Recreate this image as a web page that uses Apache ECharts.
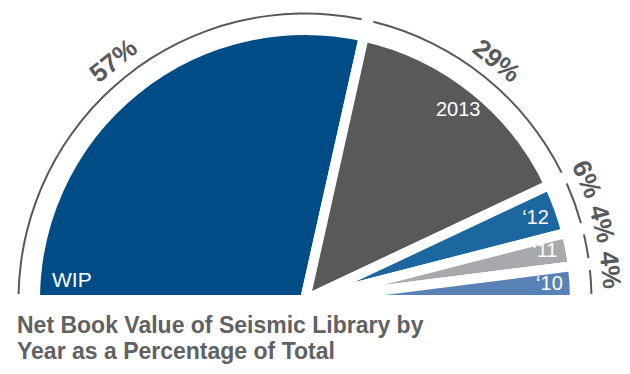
<!DOCTYPE html>
<html>
<head>
<meta charset="utf-8">
<script src="https://cdn.jsdelivr.net/npm/echarts@6/dist/echarts.min.js"></script>
<style>
  html, body { margin: 0; padding: 0; background: #ffffff; }
  #chart { width: 630px; height: 374px; }
</style>
</head>
<body>
<div id="chart"></div>
<script>
// Net book value of the seismic library, split by vintage year
const categories = ['WIP', '2013', '\u201812', '\u201811', '\u201810'];
const shares = [57, 29, 6, 4, 4];
const sliceColors = ['#004c86', '#58595b', '#1d67a0', '#a7a9ac', '#5882b6'];
const titleLines = ['Net Book Value of Seismic Library by', 'Year as a Percentage of Total'];

const CENTER = [305, 300];
const SHARE_RING = [296, 318];
const NAME_RING = [230, 260];
const INK = '#58595b';
const CLEAR = 'rgba(0,0,0,0)';
const FONT = '"Liberation Sans", Arial, sans-serif';

const coloredSlices = categories.map((name, i) => ({
  name: name,
  value: shares[i],
  itemStyle: { color: sliceColors[i] }
}));
const plainSlices = categories.map((name, i) => ({ name: name, value: shares[i] }));

// mid-angle of each wedge, degrees counter-clockwise from the right-hand baseline
const total = shares.reduce((a, b) => a + b, 0);
const midAngles = [];
shares.reduce((acc, v) => {
  midAngles.push(180 - 180 * (acc + v / 2) / total);
  return acc + v;
}, 0);

// keep labels of the thin wedges from crowding: walk up from the baseline and
// hold a minimum angular gap between neighbours
function spreadAngles(mids, floor, gap) {
  const out = mids.slice();
  let lowest = floor;
  for (let i = mids.length - 1; i >= 0; i--) {
    out[i] = Math.max(mids[i], lowest);
    lowest = out[i] + gap;
  }
  return out;
}
const shareAngles = spreadAngles(midAngles, 5.6, 8.8);
const nameAngles = spreadAngles(midAngles, 4.0, 7.8);

function onRing(ring, deg) {
  const r = (ring[0] + ring[1]) / 2;
  const rad = deg * Math.PI / 180;
  return [CENTER[0] + r * Math.cos(rad), CENTER[1] - r * Math.sin(rad)];
}

// every ring shares the same half-circle geometry
function halfPie(extra) {
  return Object.assign({
    type: 'pie',
    center: CENTER,
    startAngle: 180,
    endAngle: 0,
    clockwise: true,
    silent: true,
    animation: false,
    avoidLabelOverlap: false,
    labelLine: { show: false }
  }, extra);
}

const chart = echarts.init(document.getElementById('chart'), null, { renderer: 'svg' });

chart.setOption({
  animation: false,
  backgroundColor: '#ffffff',
  title: {
    text: titleLines.join('\n'),
    left: 17,
    top: 312,
    padding: 0,
    textStyle: {
      color: '#606163',
      fontSize: 23,
      fontWeight: 'bold',
      fontFamily: FONT,
      lineHeight: 26
    }
  },
  series: [
    // the filled wedges, separated by white gutters
    halfPie({
      name: 'slices',
      radius: 270,
      data: coloredSlices,
      itemStyle: { borderColor: '#ffffff', borderWidth: 10, borderJoin: 'round' },
      label: { show: false }
    }),
    // thin outer rim, broken between the wedges
    halfPie({
      name: 'rim',
      radius: [285.5, 287.5],
      padAngle: 2.4,
      data: plainSlices,
      itemStyle: { color: INK, borderWidth: 0 },
      label: { show: false }
    }),
    // percentage labels running along the rim
    halfPie({
      name: 'shares',
      radius: SHARE_RING,
      data: plainSlices,
      itemStyle: { color: CLEAR, borderWidth: 0 },
      label: {
        show: true,
        position: 'inside',
        rotate: 'tangential',
        formatter: '{c}%',
        color: INK,
        fontSize: 26,
        fontWeight: 'bold',
        fontFamily: FONT
      },
      labelLayout: function (p) {
        const a = shareAngles[p.dataIndex];
        const pt = onRing(SHARE_RING, a);
        return { x: pt[0], y: pt[1], rotate: a - 90, hideOverlap: false };
      }
    }),
    // category names inside the wedges
    halfPie({
      name: 'years',
      radius: NAME_RING,
      data: plainSlices,
      itemStyle: { color: CLEAR, borderWidth: 0 },
      label: {
        show: true,
        position: 'inside',
        formatter: '{b}',
        color: '#ffffff',
        fontSize: 20,
        fontFamily: FONT
      },
      labelLayout: function (p) {
        // the work-in-progress name sits in the lower left corner of its wedge
        if (p.dataIndex === 0) {
          return {
            x: p.rect.x + 7,
            y: p.rect.y + p.rect.height - 10,
            align: 'left',
            verticalAlign: 'bottom',
            fontSize: 21
          };
        }
        const pt = onRing(NAME_RING, nameAngles[p.dataIndex]);
        return { x: pt[0], y: pt[1], hideOverlap: false };
      }
    })
  ]
});
</script>
</body>
</html>
